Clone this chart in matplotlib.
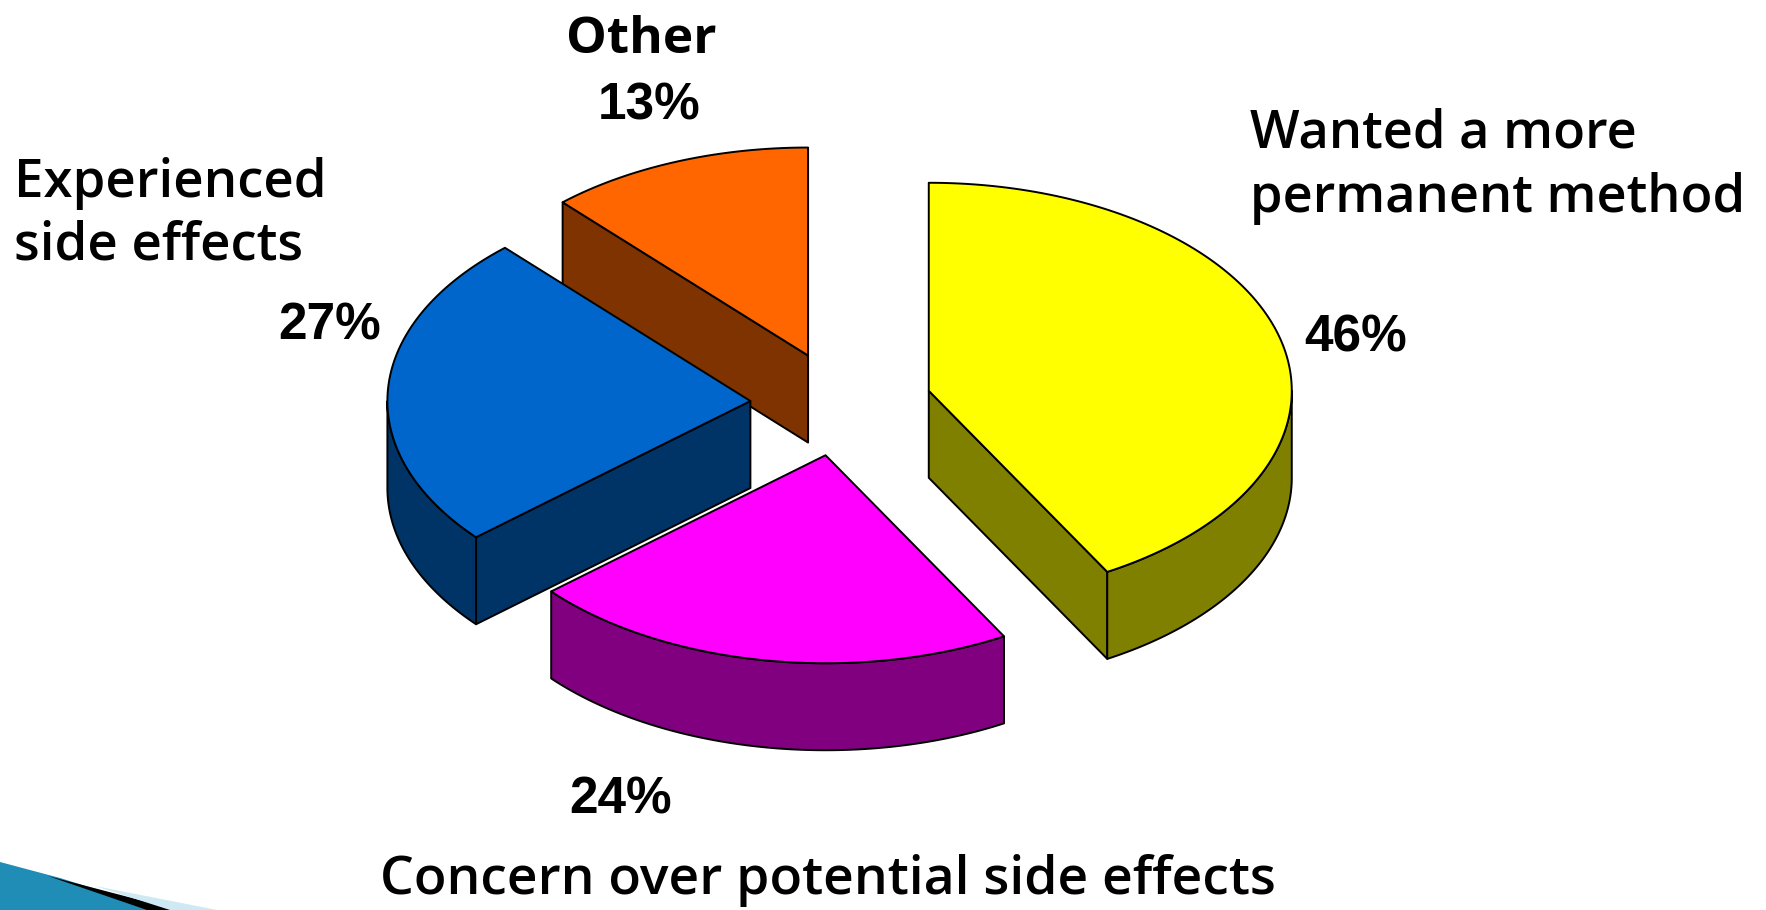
import numpy as np
import matplotlib
matplotlib.use("Agg")
import matplotlib.pyplot as plt
from matplotlib.patches import Polygon

# ---- data -------------------------------------------------------------
categories = ["Wanted a more\npermanent method",
              "Concern over potential side effects",
              "Experienced\nside effects",
              "Other"]
shares = [46, 24, 27, 13]
top_colors = ["#FFFF00", "#FF00FF", "#0066CC", "#FF6600"]
side_colors = ["#808000", "#800080", "#003366", "#7F3300"]
pct_labels = [f"{v}%" for v in shares]

# ---- canvas -----------------------------------------------------------
W, H = 1766, 910
fig = plt.figure(figsize=(W / 100, H / 100), dpi=100)
ax = fig.add_axes([0, 0, 1, 1])
ax.set_xlim(0, W)
ax.set_ylim(H, 0)
ax.axis("off")

# pie geometry (tilted disc)
cx, cy = 841, 404          # centre of the disc top
rx, ry = 363, 208          # ellipse radii of the top face
thick = 87                 # visible wall height
explode = 0.25             # radial offset of every slice (fraction of radius)
lw = 1.4

frac = np.array(shares, dtype=float) / sum(shares)
bounds = 90 - 360 * np.concatenate([[0], np.cumsum(frac)])   # clockwise from 12 o'clock


def rim(theta, ox, oy, dz=0.0):
    t = np.radians(theta)
    return np.column_stack([ox + rx * np.cos(t), oy - ry * np.sin(t) + dz])


def visible_arc(t1, t2):
    """Parts of [t1, t2] on the front half of the disc (sin < 0)."""
    out = []
    for k in range(-2, 3):
        lo, hi = -180 + 360 * k, 360 * k
        a, b = max(t1, lo), min(t2, hi)
        if b - a > 1e-6:
            out.append((a, b))
    return out


for i, v in enumerate(shares):
    t2, t1 = bounds[i], bounds[i + 1]
    mid = np.radians((t1 + t2) / 2)
    ox = cx + explode * rx * np.cos(mid)
    oy = cy - explode * ry * np.sin(mid)
    z = oy
    style = dict(edgecolor="black", linewidth=lw, joinstyle="round")

    # radial walls
    for th, vis in ((t1, np.cos(np.radians(t1)) > 1e-6),
                    (t2, np.cos(np.radians(t2)) < -1e-6)):
        if vis:
            p = rim([th], ox, oy)[0]
            poly = [(ox, oy), tuple(p), (p[0], p[1] + thick), (ox, oy + thick)]
            ax.add_patch(Polygon(poly, closed=True, facecolor=side_colors[i],
                                 zorder=z, **style))
    # outer curved wall
    for a, b in visible_arc(t1, t2):
        ths = np.linspace(a, b, 200)
        top = rim(ths, ox, oy)
        bot = rim(ths[::-1], ox, oy, thick)
        ax.add_patch(Polygon(np.vstack([top, bot]), closed=True,
                             facecolor=side_colors[i], zorder=z, **style))
    # top face
    ths = np.linspace(t2, t1, 300)
    face = np.vstack([[ox, oy], rim(ths, ox, oy)])
    ax.add_patch(Polygon(face, closed=True, facecolor=top_colors[i],
                         zorder=z + 0.5, **style))

# ---- labels -----------------------------------------------------------
fam = ["Open Sans", "DejaVu Sans"]
pct_font = dict(family=["Liberation Sans", "DejaVu Sans"], fontsize=37,
                fontweight="bold", color="black")

ax.text(1250, 147, "Wanted a more", ha="left", va="baseline", family=fam,
        fontsize=37.7, fontweight="semibold")
ax.text(1250, 212, "permanent method", ha="left", va="baseline", family=fam,
        fontsize=37.7, fontweight="semibold")
ax.text(1304, 352, pct_labels[0], ha="left", va="baseline", **pct_font)

ax.text(828, 894, categories[1], ha="center", va="baseline", family=fam,
        fontsize=38.5, fontweight="semibold")
ax.text(621, 813, pct_labels[1], ha="center", va="baseline", **pct_font)

ax.text(14, 197, "Experienced", ha="left", va="baseline", family=fam,
        fontsize=38, fontweight="semibold")
ax.text(14, 259, "side effects", ha="left", va="baseline", family=fam,
        fontsize=38, fontweight="semibold")
ax.text(330, 339, pct_labels[2], ha="center", va="baseline", **pct_font)

ax.text(641, 53, categories[3], ha="center", va="baseline", family=fam,
        fontsize=37, fontweight="bold")
ax.text(649, 120, pct_labels[3], ha="center", va="baseline", **pct_font)

# ---- corner swoosh ----------------------------------------------------
ax.add_patch(Polygon([(0, 862), (60, 878), (150, 906), (162, 910), (0, 910)],
                     closed=True, facecolor="#1F8DB5", edgecolor="none", zorder=1))
ax.add_patch(Polygon([(95, 886), (217, 910), (170, 910)], closed=True,
                     facecolor="#CFE9F4", edgecolor="none", zorder=1.2))
ax.add_patch(Polygon([(48, 876), (178, 910), (147, 910)], closed=True,
                     facecolor="black", edgecolor="none", zorder=1.1))

fig.savefig("out.png", dpi=100, facecolor="white")
